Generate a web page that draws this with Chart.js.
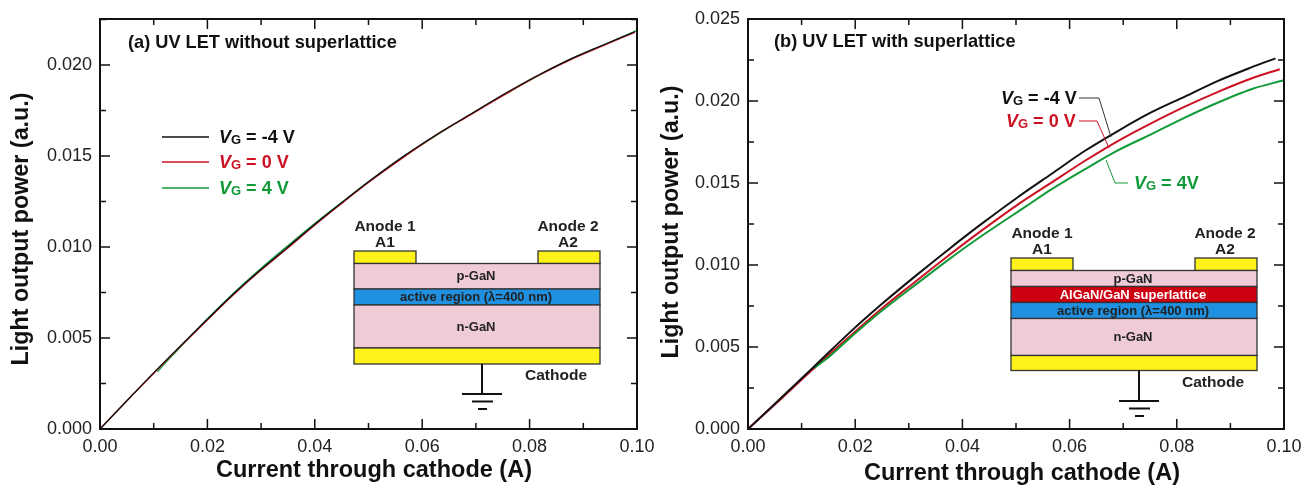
<!DOCTYPE html>
<html>
<head>
<meta charset="utf-8">
<title>UV LET light output</title>
<script src="https://cdn.jsdelivr.net/npm/chart.js@4"></script>
<style>
    body { margin: 0; background: #fff; width: 1305px; height: 485px; overflow: hidden; }
    canvas { position: absolute; top: 0; }
    #chartA { left: 0; }
    #chartB { left: 652px; }
</style>
</head>
<body>
<canvas id="chartA" width="660" height="485"></canvas>
<canvas id="chartB" width="653" height="485"></canvas>
<script>
// Tick positions and labels
const xTicks = [0, 0.01, 0.02, 0.03, 0.04, 0.05, 0.06, 0.07, 0.08, 0.09, 0.10];
const xTickLabels = ['0.00', '', '0.02', '', '0.04', '', '0.06', '', '0.08', '', '0.10'];
const yTicksA = [0, 0.0025, 0.005, 0.0075, 0.01, 0.0125, 0.015, 0.0175, 0.02, 0.0225];
const yTickLabelsA = ['0.000', '', '0.005', '', '0.010', '', '0.015', '', '0.020', ''];
const yTicksB = [0, 0.0025, 0.005, 0.0075, 0.01, 0.0125, 0.015, 0.0175, 0.02, 0.0225, 0.025];
const yTickLabelsB = ['0.000', '', '0.005', '', '0.010', '', '0.015', '', '0.020', '', '0.025'];

// Panel (a), curves sit almost on top of each other
const currentA = [0, 0.0062, 0.0103, 0.0146, 0.0199, 0.0248, 0.0298, 0.0348, 0.0398, 0.0447, 0.0503, 0.0565, 0.0627, 0.0689, 0.0751, 0.0813, 0.0875, 0.0937, 0.0996];
const blackA = [0, 0.00192, 0.00318, 0.00446, 0.00600, 0.00740, 0.00872, 0.00995, 0.01120, 0.01236, 0.01365, 0.01498, 0.01618, 0.01728, 0.01838, 0.01940, 0.02031, 0.02110, 0.02183];
const redA = [0, 0.00192, 0.00315, 0.00443, 0.00596, 0.00736, 0.00868, 0.00990, 0.01115, 0.01232, 0.01361, 0.01492, 0.01617, 0.01725, 0.01833, 0.01937, 0.02027, 0.02106, 0.02180];
const currentGreenA = [0.0107, 0.0124, 0.0146, 0.0199, 0.0248, 0.0298, 0.0348, 0.0398, 0.0447, 0.0503, 0.0565, 0.0627, 0.0689, 0.0751, 0.0813, 0.0875, 0.0937, 0.1];
const greenA = [0.00315, 0.00370, 0.00438, 0.00603, 0.00745, 0.00878, 0.01003, 0.01125, 0.01238, 0.01365, 0.01496, 0.01615, 0.01728, 0.01835, 0.01936, 0.02031, 0.02110, 0.02190];

// Panel (b)
const currentBlackB = [0, 0.0062, 0.0124, 0.0187, 0.0249, 0.0311, 0.0373, 0.0435, 0.0504, 0.0566, 0.0628, 0.069, 0.0752, 0.0815, 0.0877, 0.0939, 0.0984];
const blackB = [0, 0.00190, 0.00383, 0.00580, 0.00760, 0.00929, 0.01092, 0.01249, 0.01415, 0.01555, 0.01695, 0.01817, 0.01930, 0.02027, 0.02123, 0.02205, 0.02260];
const currentRedB = [0, 0.0062, 0.0124, 0.0187, 0.0249, 0.0311, 0.0373, 0.0435, 0.0504, 0.0566, 0.0628, 0.069, 0.0752, 0.0815, 0.0877, 0.0939, 0.0992];
const redB = [0, 0.00185, 0.00373, 0.00556, 0.00733, 0.00895, 0.01055, 0.01208, 0.01370, 0.01502, 0.01634, 0.01756, 0.01864, 0.01966, 0.02056, 0.02137, 0.02194];
const currentGreenB = [0.0124, 0.0149, 0.0187, 0.0249, 0.0311, 0.0373, 0.0435, 0.0522, 0.0566, 0.0628, 0.069, 0.0752, 0.0815, 0.0877, 0.0939, 0.1];
const greenB = [0.00373, 0.00434, 0.00546, 0.00719, 0.00876, 0.01030, 0.01175, 0.01365, 0.01461, 0.01583, 0.01699, 0.01797, 0.01899, 0.01991, 0.02072, 0.02127];

const seriesLabels = ['-4 V', '0 V', '4 V'];

const BLACK = '#111111';
const RED = '#cc1122';
const GREEN = '#109a38';
const FONT = '"Liberation Sans", Arial, sans-serif';
Chart.defaults.font.family = FONT;

function points(xs, ys) {
    return xs.map((x, i) => ({ x: x, y: ys[i] }));
}

function text(ctx, str, x, y, font, color, align) {
    ctx.font = font;
    ctx.fillStyle = color;
    ctx.textAlign = align || 'center';
    ctx.textBaseline = 'middle';
    ctx.fillText(str, x, y);
}

// "VG = ..." label, italic V and small G
function vgLabel(ctx, x, y, rest, color) {
    ctx.textAlign = 'left';
    ctx.textBaseline = 'middle';
    ctx.fillStyle = color;
    ctx.font = 'italic bold 18px ' + FONT;
    ctx.fillText('V', x, y);
    x += ctx.measureText('V').width;
    ctx.font = 'bold 13px ' + FONT;
    ctx.fillText('G', x, y + 2);
    x += ctx.measureText('G').width;
    ctx.font = 'bold 18px ' + FONT;
    ctx.fillText(' = ' + rest, x, y);
}

function polyline(ctx, pts, color, width) {
    ctx.strokeStyle = color;
    ctx.lineWidth = width;
    ctx.beginPath();
    pts.forEach((p, i) => i ? ctx.lineTo(p[0], p[1]) : ctx.moveTo(p[0], p[1]));
    ctx.stroke();
}

function layer(ctx, x, y, w, h, color) {
    ctx.fillStyle = color;
    ctx.fillRect(x, y, w, h);
    ctx.strokeStyle = '#333';
    ctx.lineWidth = 1.3;
    ctx.strokeRect(x, y, w, h);
}

// Device cross section. left/top is the corner of the first anode, bands go top to bottom
function device(ctx, left, top, bands, groundY) {
    const W = 246, PINK = '#efcbd8', YELLOW = '#fff21a', BLUE = '#2090e0', DARK = '#222';
    const label = 'bold 13px ' + FONT, big = 'bold 15.5px ' + FONT;
    const mid = left + 122;
    layer(ctx, left, top, 62, 12.5, YELLOW);
    layer(ctx, left + 184, top, 62, 12.5, YELLOW);
    text(ctx, 'Anode 1', left + 31, top - 24, big, DARK);
    text(ctx, 'A1', left + 31, top - 8, big, DARK);
    text(ctx, 'Anode 2', left + 214, top - 24, big, DARK);
    text(ctx, 'A2', left + 214, top - 8, big, DARK);

    let y = top + 12.5;
    bands.forEach(b => {
        const color = { pink: PINK, blue: BLUE, red: '#cc0011', yellow: YELLOW }[b.kind];
        layer(ctx, left, y, W, b.h, color);
        if (b.label) {
            text(ctx, b.label, mid, y + b.h / 2 + 0.5, label, b.kind === 'red' ? '#fff' : DARK);
        }
        y += b.h;
    });
    text(ctx, 'Cathode', left + 202, y + 12, big, DARK);

    const gx = left + 128;
    polyline(ctx, [[gx, y], [gx, groundY]], '#111', 2);
    polyline(ctx, [[gx - 20, groundY], [gx + 20, groundY]], '#111', 2);
    polyline(ctx, [[gx - 10, groundY + 7.5], [gx + 11, groundY + 7.5]], '#111', 2);
    polyline(ctx, [[gx - 4, groundY + 15], [gx + 5, groundY + 15]], '#111', 2);
}

// Frame with inward ticks on all four sides, major where a label exists
const framePlugin = {
    id: 'frame',
    afterDatasetsDraw(chart, args, opts) {
        const ctx = chart.ctx, a = chart.chartArea;
        ctx.save();
        ctx.strokeStyle = '#111';
        ctx.lineWidth = 2;
        ctx.strokeRect(a.left, a.top, a.right - a.left, a.bottom - a.top);
        ctx.lineWidth = 1.5;
        ctx.beginPath();
        xTicks.forEach((v, i) => {
            const p = chart.scales.x.getPixelForValue(v), len = xTickLabels[i] ? 10 : 6;
            ctx.moveTo(p, a.bottom); ctx.lineTo(p, a.bottom - len);
            ctx.moveTo(p, a.top); ctx.lineTo(p, a.top + len);
        });
        opts.yTicks.forEach((v, i) => {
            const p = chart.scales.y.getPixelForValue(v), len = opts.yLabels[i] ? 10 : 6;
            ctx.moveTo(a.left, p); ctx.lineTo(a.left + len, p);
            ctx.moveTo(a.right, p); ctx.lineTo(a.right - len, p);
        });
        ctx.stroke();
        ctx.restore();
    }
};

// Axis titles, panel title, legend and inset. Coordinates are canvas pixels
const notesPlugin = {
    id: 'notes',
    afterDraw(chart, args, opts) {
        const ctx = chart.ctx;
        ctx.save();
        text(ctx, 'Current through cathode (A)', opts.xTitle[0], opts.xTitle[1], 'bold 23.5px ' + FONT, BLACK);
        ctx.translate(opts.yTitle[0], opts.yTitle[1]);
        ctx.rotate(-Math.PI / 2);
        text(ctx, 'Light output power (a.u.)', 0, 0, 'bold 23.3px ' + FONT, BLACK);
        ctx.restore();
        ctx.save();
        text(ctx, opts.title, opts.titlePos[0], opts.titlePos[1], 'bold 18.2px ' + FONT, '#111', 'left');
        opts.draw(ctx);
        ctx.restore();
    }
};

function makeChart(id, datasets, opts) {
    const canvas = document.getElementById(id);
    return new Chart(canvas.getContext('2d'), {
        type: 'scatter',
        data: {
            datasets: datasets.map(d => ({
                label: d.label,
                data: d.data,
                showLine: true,
                borderColor: d.color,
                borderWidth: opts.lineWidth,
                pointRadius: 0,
                tension: 0.3,
                fill: false
            }))
        },
        plugins: [framePlugin, notesPlugin],
        options: {
            responsive: false,
            animation: false,
            layout: { padding: { left: 0, top: 19, right: opts.rightPad, bottom: 0 } },
            scales: {
                x: {
                    type: 'linear',
                    min: 0,
                    max: 0.1,
                    grid: { display: false },
                    border: { display: false },
                    afterBuildTicks: axis => { axis.ticks = xTicks.map(v => ({ value: v })); },
                    afterFit: axis => {
                        axis.height = 56;
                        axis.paddingRight = 0;
                        axis.paddingLeft = 0;
                    },
                    ticks: {
                        autoSkip: false,
                        maxRotation: 0,
                        padding: -1,
                        color: '#222',
                        font: { size: 18 },
                        callback: (value, i) => xTickLabels[i]
                    }
                },
                y: {
                    type: 'linear',
                    min: 0,
                    max: opts.yMax,
                    grid: { display: false },
                    border: { display: false },
                    afterBuildTicks: axis => { axis.ticks = opts.yTicks.map(v => ({ value: v })); },
                    afterFit: axis => {
                        axis.width = opts.axisLeft;
                        axis.paddingTop = 0;
                        axis.paddingBottom = 0;
                    },
                    ticks: {
                        autoSkip: false,
                        padding: 0,
                        color: '#222',
                        font: { size: 18 },
                        callback: (value, i) => opts.yLabels[i]
                    }
                }
            },
            plugins: {
                legend: { display: false },
                tooltip: { enabled: false },
                frame: { yTicks: opts.yTicks, yLabels: opts.yLabels },
                notes: {
                    title: opts.title,
                    titlePos: opts.titlePos,
                    xTitle: opts.xTitle,
                    yTitle: opts.yTitle,
                    draw: opts.draw
                }
            }
        }
    });
}

makeChart('chartA', [
    { label: 'VG = ' + seriesLabels[0], data: points(currentA, blackA), color: BLACK },
    { label: 'VG = ' + seriesLabels[1], data: points(currentA, redA), color: RED },
    { label: 'VG = ' + seriesLabels[2], data: points(currentGreenA, greenA), color: GREEN }
], {
    lineWidth: 1.3,
    rightPad: 23,
    yMax: 0.02253,
    axisLeft: 100,
    yTicks: yTicksA,
    yLabels: yTickLabelsA,
    title: '(a) UV LET without superlattice',
    titlePos: [128, 43],
    xTitle: [374, 471],
    yTitle: [22, 229],
    draw(ctx) {
        [[137, BLACK], [162, RED], [188, GREEN]].forEach((row, i) => {
            polyline(ctx, [[162, row[0]], [209, row[0]]], row[1], 1.5);
            vgLabel(ctx, 219, row[0] + 1, seriesLabels[i], row[1]);
        });
        device(ctx, 354, 251, [
            { kind: 'pink', h: 25.5, label: 'p-GaN' },
            { kind: 'blue', h: 16, label: 'active region (\u03bb=400 nm)' },
            { kind: 'pink', h: 43, label: 'n-GaN' },
            { kind: 'yellow', h: 16 }
        ], 394);
    }
});

makeChart('chartB', [
    { label: 'VG = ' + seriesLabels[0], data: points(currentBlackB, blackB), color: BLACK },
    { label: 'VG = ' + seriesLabels[2], data: points(currentGreenB, greenB), color: GREEN },
    { label: 'VG = ' + seriesLabels[1], data: points(currentRedB, redB), color: RED }
], {
    lineWidth: 2,
    rightPad: 21,
    yMax: 0.025,
    axisLeft: 96,
    yTicks: yTicksB,
    yLabels: yTickLabelsB,
    title: '(b) UV LET with superlattice',
    titlePos: [122, 42],
    xTitle: [370, 474],
    yTitle: [20, 222],
    draw(ctx) {
        vgLabel(ctx, 349, 99, seriesLabels[0], BLACK);
        vgLabel(ctx, 354, 122, seriesLabels[1], RED);
        vgLabel(ctx, 482, 184, '4V', GREEN);
        polyline(ctx, [[427, 98], [447, 98], [459, 137]], '#333', 1);
        polyline(ctx, [[427, 121], [445, 121], [457, 148]], RED, 1);
        polyline(ctx, [[454, 160], [463, 183], [476, 183]], GREEN, 1);
        device(ctx, 359, 258, [
            { kind: 'pink', h: 16, label: 'p-GaN' },
            { kind: 'red', h: 16, label: 'AlGaN/GaN superlattice' },
            { kind: 'blue', h: 16, label: 'active region (\u03bb=400 nm)' },
            { kind: 'pink', h: 37, label: 'n-GaN' },
            { kind: 'yellow', h: 15 }
        ], 401);
    }
});
</script>
</body>
</html>
